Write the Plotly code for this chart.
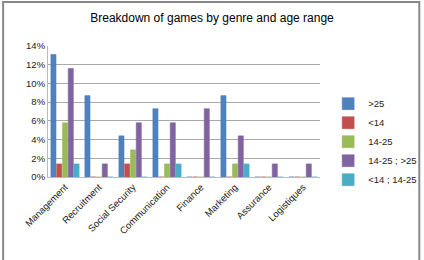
import plotly.graph_objects as go

categories = ["Management", "Recruitment", "Social Security", "Communication",
              "Finance", "Marketing", "Assurance", "Logistiques"]
series_names = [">25", "<14", "14-25", "14-25 ; >25", "<14 ; 14-25"]
s_gt25 = [13.1, 8.7, 4.4, 7.3, 0.0, 8.7, 0.0, 0.0]
s_lt14 = [1.4, 0.0, 1.4, 0.0, 0.0, 0.0, 0.0, 0.0]
s_14_25 = [5.8, 0.0, 2.9, 1.4, 0.0, 1.4, 0.0, 0.0]
s_14_25_gt25 = [11.6, 1.4, 5.8, 5.8, 7.3, 4.4, 1.4, 1.4]
s_lt14_14_25 = [1.4, 0.0, 0.0, 1.4, 0.0, 1.4, 0.0, 0.0]
colors = ["#4F81BD", "#C0504D", "#9BBB59", "#8064A2", "#4BACC6"]
tick_vals = [0, 2, 4, 6, 8, 10, 12, 14]
tick_text = ["0%", "2%", "4%", "6%", "8%", "10%", "12%", "14%"]

all_series = [s_gt25, s_lt14, s_14_25, s_14_25_gt25, s_lt14_14_25]

fig = go.Figure()
for name, vals, col in zip(series_names, all_series, colors):
    fig.add_trace(go.Bar(x=categories, y=vals, name=name,
                         marker=dict(color=col, line=dict(color=col, width=0.5))))

fig.update_layout(
    width=424, height=260,
    margin=dict(l=48, r=104, t=46, b=83, autoexpand=False),
    paper_bgcolor="white", plot_bgcolor="white",
    font=dict(family="Liberation Sans, Arial", size=9, color="#222222"),
    title=dict(text="Breakdown of games by genre and age range",
               x=0.5, xanchor="center", y=0.93, yanchor="middle",
               font=dict(size=12, color="#000000")),
    barmode="group", bargap=0.15, bargroupgap=0.1,
    showlegend=True,
    legend=dict(x=1.03, xanchor="left", y=0.27, yanchor="middle",
                font=dict(size=9.5), itemwidth=30,
                bgcolor="rgba(0,0,0,0)"),
    xaxis=dict(tickangle=-45, showline=True, linecolor="#BBBBBB",
               ticks="", tickfont=dict(size=9.5)),
    yaxis=dict(range=[0, 14], tickvals=tick_vals, ticktext=tick_text,
               showgrid=True, gridcolor="#AAAAAA", gridwidth=1,
               showline=True, linecolor="#BBBBBB", zeroline=False,
               tickfont=dict(size=9.5)),
    shapes=[dict(type="rect", xref="paper", yref="paper",
                 x0=-0.165, x1=1.365, y0=-0.7, y1=1.335,
                 line=dict(color="#888888", width=2))],
)

fig.write_html("out.html")
